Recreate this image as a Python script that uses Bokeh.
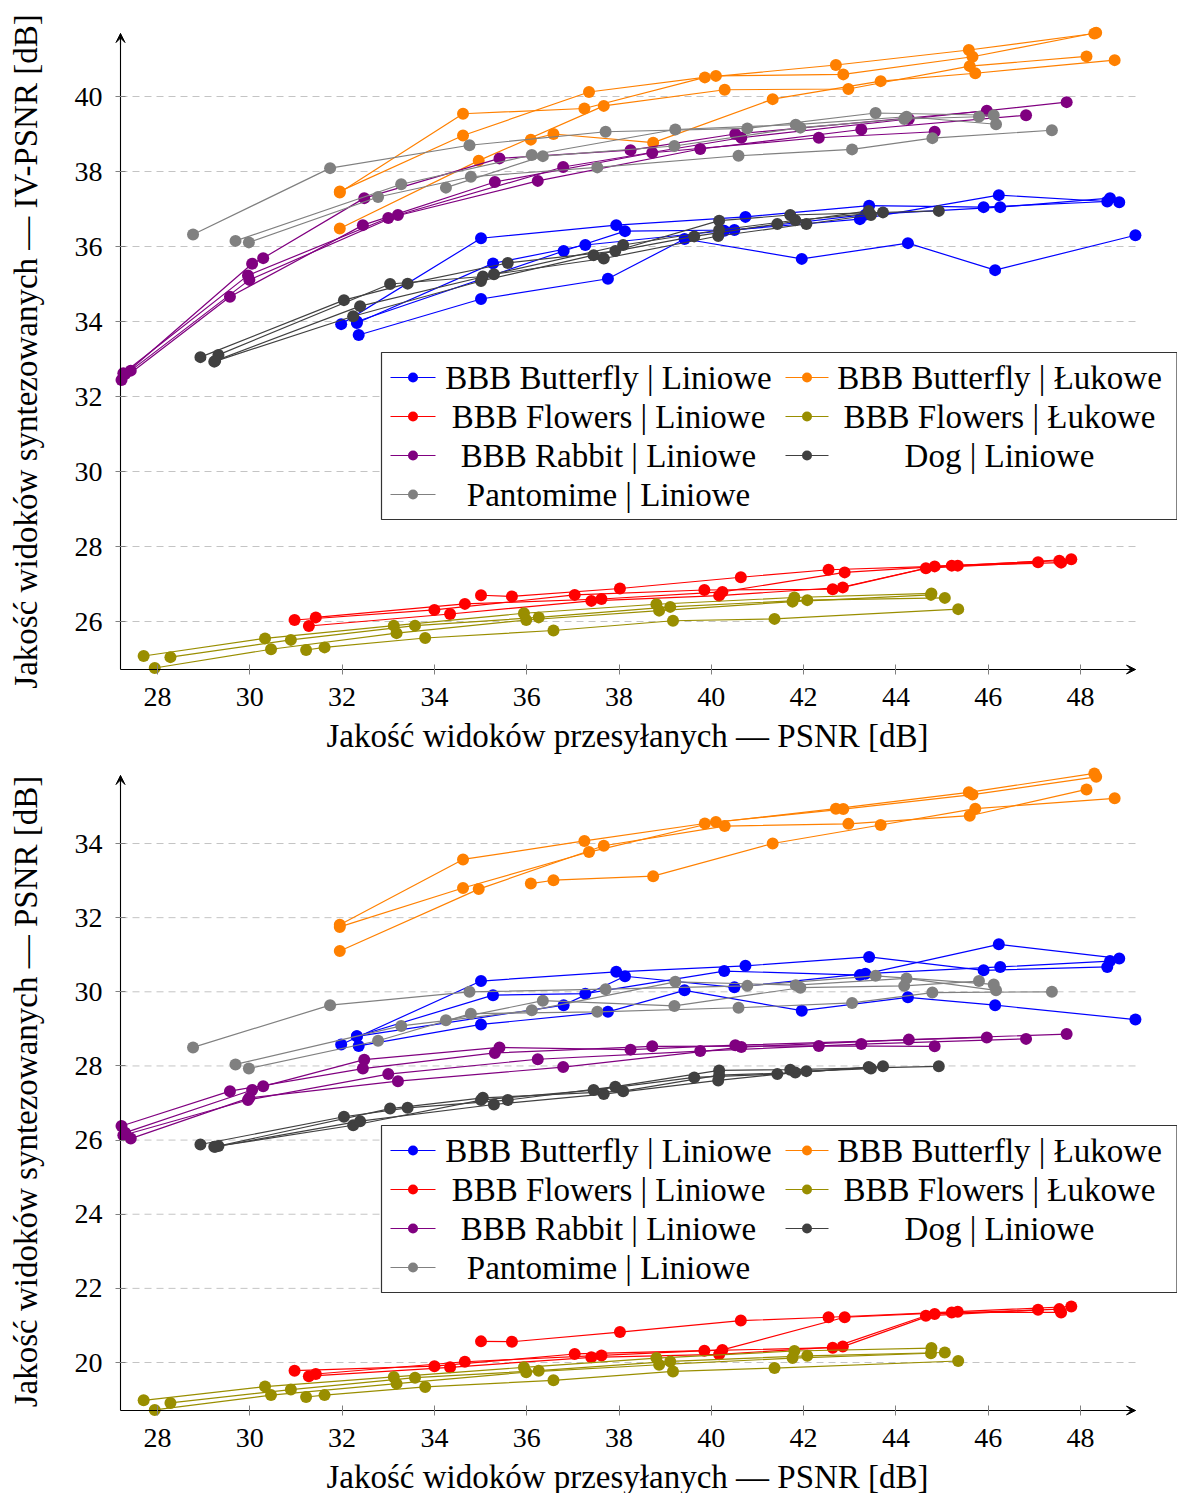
import math

from bokeh.plotting import figure
from bokeh.layouts import column
from bokeh.models import Arrow, VeeHead, BoxAnnotation, FixedTicker, Range1d
from bokeh.core.properties import value
from bokeh.embed import file_html
from bokeh.resources import INLINE

FONT = "Liberation Serif"

# ---------------------------------------------------------------------------
# Measured results: one list per configuration (curve) of every sequence.
# x  = quality of transmitted views (PSNR, dB)
# iv = quality of synthesized views (IV-PSNR, dB)
# ps = quality of synthesized views (PSNR, dB)
# ---------------------------------------------------------------------------

butterfly_lin_x = [
    [31.98, 35.01, 37.94, 40.74, 43.42, 45.90, 48.58],
    [32.32, 35.27, 37.27, 40.28, 43.22, 46.23, 48.84],
    [32.32, 36.80, 38.13, 40.50, 43.34, 46.26, 48.64],
    [32.36, 35.01, 37.76, 39.42, 41.96, 44.26, 46.15, 49.19],
]
butterfly_lin_iv = [
    [33.93, 36.22, 36.57, 36.79, 37.09, 37.05, 37.20],
    [33.96, 35.55, 36.04, 36.42, 36.73, 37.37, 37.18],
    [34.00, 35.88, 36.41, 36.44, 36.85, 37.05, 37.29],
    [33.64, 34.60, 35.14, 36.20, 35.67, 36.09, 35.37, 36.30],
]
butterfly_lin_ps = [
    [28.58, 30.29, 30.54, 30.70, 30.94, 30.58, 30.67],
    [28.80, 29.91, 29.95, 30.56, 30.45, 31.28, 30.90],
    [28.80, 29.64, 30.42, 30.12, 30.49, 30.67, 30.83],
    [28.54, 29.12, 29.46, 30.04, 29.49, 29.85, 29.64, 29.25],
]

butterfly_arc_x = [
    [31.95, 34.62, 37.25, 39.86, 42.70, 45.58, 48.30],
    [31.95, 34.62, 37.35, 40.10, 42.86, 45.66, 48.34],
    [31.95, 34.96, 37.67, 40.29, 42.97, 45.60, 48.13],
    [36.09, 36.58, 38.74, 41.33, 43.67, 45.72, 48.74],
]
butterfly_arc_iv = [
    [37.44, 39.54, 39.68, 40.51, 40.84, 41.24, 41.68],
    [37.47, 38.96, 40.12, 40.55, 40.59, 41.06, 41.70],
    [36.48, 38.29, 39.75, 40.18, 40.20, 40.81, 41.07],
    [38.85, 39.00, 38.77, 39.93, 40.41, 40.62, 40.97],
]
butterfly_arc_ps = [
    [31.81, 33.57, 34.07, 34.54, 34.94, 35.38, 35.89],
    [31.75, 32.80, 33.77, 34.58, 34.93, 35.32, 35.80],
    [31.10, 32.77, 33.94, 34.47, 34.53, 34.75, 35.46],
    [32.92, 33.01, 33.12, 34.00, 34.50, 34.94, 35.22],
]

flowers_lin_x = [
    [30.97, 34.00, 37.04, 39.85, 42.63, 44.65, 47.08],
    [31.28, 34.34, 37.40, 40.17, 42.85, 44.84, 47.54],
    [31.43, 34.66, 37.62, 40.24, 42.89, 45.21, 47.58],
    [35.01, 35.68, 38.02, 40.64, 42.54, 45.34, 47.80],
]
flowers_lin_iv = [
    [26.04, 26.31, 26.71, 26.84, 26.86, 27.42, 27.58],
    [25.88, 26.20, 26.55, 26.69, 26.91, 27.47, 27.62],
    [26.11, 26.47, 26.60, 26.79, 27.31, 27.49, 27.57],
    [26.70, 26.67, 26.88, 27.18, 27.38, 27.49, 27.66],
]
flowers_lin_ps = [
    [19.78, 19.90, 20.23, 20.32, 20.40, 21.26, 21.42],
    [19.63, 19.87, 20.14, 20.22, 20.43, 21.31, 21.44],
    [19.69, 20.02, 20.19, 20.34, 21.22, 21.35, 21.35],
    [20.57, 20.56, 20.82, 21.13, 21.22, 21.37, 21.51],
]

flowers_arc_x = [
    [27.70, 30.33, 33.12, 35.94, 38.81, 41.80, 44.77],
    [28.28, 30.89, 33.58, 36.26, 39.11, 42.08, 45.06],
    [27.94, 30.46, 33.18, 35.99, 38.87, 41.76, 44.76],
    [31.22, 31.62, 33.80, 36.58, 39.17, 41.37, 45.35],
]
flowers_arc_iv = [
    [25.08, 25.55, 25.89, 26.22, 26.46, 26.64, 26.75],
    [25.05, 25.51, 25.89, 26.11, 26.39, 26.57, 26.63],
    [24.76, 25.26, 25.69, 26.04, 26.29, 26.53, 26.71],
    [25.24, 25.31, 25.56, 25.76, 26.02, 26.07, 26.33],
]
flowers_arc_ps = [
    [18.98, 19.35, 19.61, 19.87, 20.12, 20.31, 20.39],
    [18.91, 19.27, 19.59, 19.78, 20.03, 20.18, 20.27],
    [18.72, 19.12, 19.43, 19.74, 19.94, 20.12, 20.25],
    [19.07, 19.12, 19.34, 19.52, 19.76, 19.85, 20.04],
]

rabbit_lin_x = [
    [27.22, 29.57, 32.45, 35.31, 38.72, 42.33, 44.84],
    [27.26, 29.96, 33.00, 36.24, 39.76, 43.25, 46.82],
    [27.42, 29.99, 33.21, 36.79, 40.65, 44.28, 47.70],
    [27.30, 30.05, 30.29, 32.48, 35.41, 38.25, 40.52, 45.97],
]
rabbit_lin_iv = [
    [32.44, 34.66, 36.57, 37.72, 38.50, 38.90, 39.06],
    [32.62, 35.23, 36.76, 37.75, 38.60, 39.12, 39.50],
    [32.69, 35.11, 36.84, 38.12, 38.90, 39.40, 39.85],
    [32.60, 35.54, 35.69, 37.29, 38.35, 38.57, 39.00, 39.62],
]
rabbit_lin_ps = [
    [26.38, 27.32, 27.93, 28.35, 28.53, 28.54, 28.53],
    [26.13, 27.08, 27.78, 28.18, 28.40, 28.59, 28.73],
    [26.04, 27.14, 27.59, 27.97, 28.51, 28.71, 28.86],
    [26.20, 27.35, 27.45, 28.17, 28.50, 28.44, 28.56, 28.77],
]

dog_lin_x = [
    [28.93, 32.04, 33.42, 35.59, 37.92, 40.17, 41.71, 44.93],
    [29.32, 33.04, 35.05, 38.09, 40.17, 41.82, 43.72],
    [29.23, 32.24, 35.01, 37.45, 39.63, 41.43, 43.41],
    [29.25, 32.39, 35.29, 37.67, 40.15, 42.06, 43.46],
]
dog_lin_iv = [
    [33.05, 34.57, 35.01, 35.56, 35.88, 36.69, 36.84, 36.95],
    [33.11, 35.00, 35.20, 36.04, 36.44, 36.70, 36.91],
    [32.93, 34.14, 35.08, 35.77, 36.27, 36.60, 36.95],
    [32.95, 34.41, 35.26, 35.68, 36.28, 36.60, 36.84],
]
dog_lin_ps = [
    [25.88, 26.63, 26.87, 27.08, 27.44, 27.88, 27.90, 27.99],
    [25.84, 26.85, 27.14, 27.32, 27.75, 27.82, 27.99],
    [25.82, 26.40, 27.08, 27.35, 27.69, 27.78, 27.97],
    [25.82, 26.51, 26.96, 27.24, 27.61, 27.86, 27.93],
]

pantomime_lin_x = [
    [28.77, 31.74, 34.76, 37.71, 40.78, 43.56, 46.12],
    [29.69, 33.28, 36.11, 39.22, 41.83, 44.23, 46.17],
    [34.25, 36.35, 39.20, 41.93, 44.18, 45.80],
    [29.98, 32.78, 34.79, 37.53, 40.59, 43.05, 44.79, 47.38],
]
pantomime_lin_iv = [
    [36.32, 38.09, 38.70, 39.06, 39.15, 39.56, 39.50],
    [36.15, 37.66, 38.44, 39.12, 39.25, 39.46, 39.26],
    [37.57, 38.41, 38.68, 39.17, 39.40, 39.46],
    [36.11, 37.32, 37.86, 38.11, 38.42, 38.59, 38.89, 39.10],
]
pantomime_lin_ps = [
    [28.50, 29.64, 30.00, 30.07, 30.16, 30.43, 30.20],
    [28.04, 29.08, 29.50, 30.27, 30.18, 30.36, 30.04],
    [29.23, 29.76, 29.62, 30.11, 30.16, 30.29],
    [27.93, 28.68, 29.41, 29.46, 29.57, 29.70, 29.98, 30.00],
]

x_ticks = [28, 30, 32, 34, 36, 38, 40, 42, 44, 46, 48]
iv_ticks = [26, 28, 30, 32, 34, 36, 38, 40]
ps_ticks = [20, 22, 24, 26, 28, 30, 32, 34]

x_label = "Jakość widoków przesyłanych — PSNR [dB]"
iv_label = "Jakość widoków syntezowanych — IV-PSNR [dB]"
ps_label = "Jakość widoków syntezowanych — PSNR [dB]"

# (legend text, colour, x, iv, psnr, legend column, legend row)
series = [
    ("BBB Butterfly | Liniowe", "#0000ff", butterfly_lin_x, butterfly_lin_iv, butterfly_lin_ps, 0, 0),
    ("BBB Butterfly | Łukowe", "#ff8000", butterfly_arc_x, butterfly_arc_iv, butterfly_arc_ps, 1, 0),
    ("BBB Flowers | Liniowe", "#ff0000", flowers_lin_x, flowers_lin_iv, flowers_lin_ps, 0, 1),
    ("BBB Flowers | Łukowe", "#998e00", flowers_arc_x, flowers_arc_iv, flowers_arc_ps, 1, 1),
    ("BBB Rabbit | Liniowe", "#800080", rabbit_lin_x, rabbit_lin_iv, rabbit_lin_ps, 0, 2),
    ("Dog | Liniowe", "#404040", dog_lin_x, dog_lin_iv, dog_lin_ps, 1, 2),
    ("Pantomime | Liniowe", "#808080", pantomime_lin_x, pantomime_lin_iv, pantomime_lin_ps, 0, 3),
]

# ---------------------------------------------------------------------------
# layout: the plotting frame fills each canvas, the axes cross inside it
# (all positions below are canvas pixels)
# ---------------------------------------------------------------------------
W = 1177
AXIS_X = 120          # vertical axis
ARROW_X = 1135        # tip of the horizontal axis arrow
PX_PER_X = 46.15
X0 = 28 - 157 / PX_PER_X
X1 = X0 + W / PX_PER_X
X_AXIS = X0 + AXIS_X / PX_PER_X
X_ARROW = X0 + ARROW_X / PX_PER_X

LEG_COL_LINE = [(390, 435), (785, 828)]
LEG_COL_TEXT = [608, 999]
LEG_ROW_STEP = 39


def fx(px):
    return X0 + px / PX_PER_X


def build_panel(which, y_ticks, y_label, tick_ref, tick_ref_px, px_per_y,
                height, tip_px, axis_px, leg_top, xlabel_px, ylabel_px):
    y1 = tick_ref + tick_ref_px / px_per_y
    y0 = y1 - height / px_per_y
    y_axis = y1 - axis_px / px_per_y
    y_tip = y1 - tip_px / px_per_y

    def fy(py):
        return y1 - py / px_per_y

    p = figure(width=W, height=height, output_backend="svg", toolbar_location=None,
               title=None, x_range=Range1d(X0, X1), y_range=Range1d(y0, y1),
               min_border_left=0, min_border_right=0, min_border_top=0, min_border_bottom=0)
    p.outline_line_color = None
    p.background_fill_color = "white"
    p.border_fill_color = "white"
    p.xgrid.visible = False
    p.ygrid.visible = False

    # dashed horizontal grid, ending at the axis arrow
    p.segment(x0=[X_AXIS] * len(y_ticks), y0=y_ticks, x1=[X_ARROW] * len(y_ticks), y1=y_ticks,
              line_color="#c4c4c4", line_width=1, line_dash="7 5")

    for name, col, xs, ivs, pss, _, _ in series:
        ys = ivs if which == "iv" else pss
        for cx, cy in zip(xs, ys):
            p.line(cx, cy, line_color=col, line_width=1.2)
            p.scatter(cx, cy, size=12, fill_color=col, line_color=col, line_width=0)

    # axes crossing at (X_AXIS, y_axis)
    for ax in (p.xaxis[0], p.yaxis[0]):
        ax.axis_line_color = "black"
        ax.axis_line_width = 1.1
        ax.major_tick_line_color = "#808080"
        ax.major_tick_in = 5
        ax.major_tick_out = 5
        ax.minor_tick_line_color = None
        ax.major_label_text_font = FONT
        ax.major_label_text_font_size = "28px"
        ax.major_label_text_color = "black"
    p.xaxis.fixed_location = y_axis
    p.yaxis.fixed_location = X_AXIS
    p.xaxis.bounds = (X_AXIS, X_ARROW)
    p.yaxis.bounds = (y_axis, y_tip)
    p.xaxis.ticker = FixedTicker(ticks=x_ticks)
    p.yaxis.ticker = FixedTicker(ticks=y_ticks)
    p.xaxis.major_label_standoff = 13
    p.yaxis.major_label_standoff = 13

    # axis titles
    p.text([fx(627)], [fy(xlabel_px)], text=[x_label], text_font=value(FONT),
           text_font_size="33px", text_align="center", text_baseline="middle",
           text_color="black")
    p.text([fx(25)], [fy(ylabel_px)], text=[y_label], text_font=value(FONT),
           text_font_size="33px", text_align="center", text_baseline="middle",
           text_color="black", angle=math.pi / 2)

    # arrow heads at the ends of both axes
    head = dict(size=9, line_color="black", fill_color="black", line_width=1)
    p.add_layout(Arrow(end=VeeHead(**head), x_start=X_ARROW - 0.3, y_start=y_axis,
                       x_end=X_ARROW, y_end=y_axis, line_color="black", line_width=1.1))
    p.add_layout(Arrow(end=VeeHead(**head), x_start=X_AXIS, y_start=y_tip - 0.3,
                       x_end=X_AXIS, y_end=y_tip, line_color="black", line_width=1.1))

    # legend
    leg_bottom = leg_top + 167
    p.add_layout(BoxAnnotation(left=fx(381), right=fx(1176.5), top=fy(leg_top), bottom=fy(leg_bottom),
                               fill_color="white", fill_alpha=1.0,
                               line_color="#333333", line_width=1.2, line_alpha=1.0))
    for name, col, xs, ivs, pss, lc, lr in series:
        ry = fy(leg_top + 25 + lr * LEG_ROW_STEP)
        a, b = LEG_COL_LINE[lc]
        p.line([fx(a), fx(b)], [ry, ry], line_color=col, line_width=1.2, level="overlay")
        p.scatter([fx((a + b) / 2)], [ry], size=10, fill_color=col, line_color=col,
                  line_width=0, level="overlay")
        p.text([fx(LEG_COL_TEXT[lc])], [ry], text=[name], text_font=value(FONT),
               text_font_size="33px", text_align="center", text_baseline="middle",
               text_color="black", level="overlay")
    return p


TOP_H = 755
BOT_H = 1493 - TOP_H

top = build_panel("iv", iv_ticks, iv_label, 40, 96, 37.5,
                  TOP_H, 33, 669, 352, 735, 351)
bottom = build_panel("ps", ps_ticks, ps_label, 20, 1362 - TOP_H, 37.07,
                     BOT_H, 775 - TOP_H, 1410 - TOP_H, 1125 - TOP_H, 1476 - TOP_H, 1091 - TOP_H)

layout = column(top, bottom, spacing=0)

with open("out.html", "w") as f:
    f.write(file_html(layout, INLINE))
